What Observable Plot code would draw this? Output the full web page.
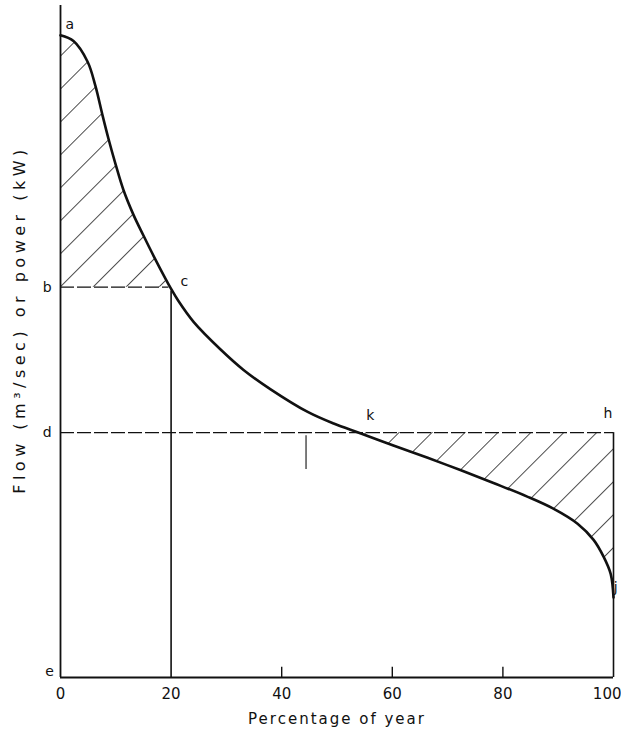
<!DOCTYPE html>
<html>
<head>
<meta charset="utf-8">
<script src="https://cdn.jsdelivr.net/npm/d3@7"></script>
<script src="https://cdn.jsdelivr.net/npm/@observablehq/plot@0.6"></script>
<style>
  html, body { margin: 0; padding: 0; background: #fff; }
</style>
</head>
<body>
<div id="chart"></div>
<script>
// Percentage of year (x) and flow / power (y, arbitrary units)
const percent = [0, 2.35, 4.9, 6.3, 7.6, 8.7, 9.9, 11.4, 13.2, 15.0, 16.8, 19.0, 19.9, 21.3, 24.1, 28.9, 33.1, 38.0, 44.7, 49.4, 54.2, 60.2, 66.4, 72.3, 78.3, 84.4, 89.2, 93.5, 96.4, 98.2, 99.5, 100];
const flow    = [99.4, 98.5, 95.3, 91.6, 87.0, 83.3, 79.6, 75.4, 71.6, 68.4, 65.3, 61.7, 60.3, 58.3, 55.0, 50.8, 47.6, 44.6, 41.1, 39.3, 37.8, 35.9, 34.0, 32.1, 30.1, 28.0, 26.1, 23.8, 21.3, 18.7, 16.0, 12.4];
const xTicks = [0, 20, 40, 60, 80];
const lastTick = [100];
const innerTicks = [40, 60, 80];
const levelB = 60.4;   // line b–c
const levelD = 37.9;   // line d–k–h
const pointC = 20;     // percentage at c
const xTitle = "Percentage of year";
const yTitle = "Flow (m³/sec) or power (kW)";
const pointLabels = [
  {x: 1.7,  y: 101.0, t: "a", anchor: "start"},
  {x: -2.4, y: 60.4,  t: "b", anchor: "middle"},
  {x: 22.4, y: 61.3,  t: "c", anchor: "middle"},
  {x: -2.4, y: 37.9,  t: "d", anchor: "middle"},
  {x: -2.0, y: 1.0,   t: "e", anchor: "middle"},
  {x: 56.0, y: 40.6,  t: "k", anchor: "middle"},
  {x: 99.0, y: 40.8,  t: "h", anchor: "middle"},
  {x: 100.4, y: 14.0, t: "j", anchor: "start"}
];

const data = percent.map((x, i) => ({x, y: flow[i]}));
const ink = "#111";

const chart = Plot.plot({
  width: 621,
  height: 736,
  marginLeft: 60,
  marginRight: 8,
  marginTop: 5,
  marginBottom: 59,
  x: {domain: [0, 100]},
  y: {domain: [0, 104], axis: null},
  style: {fontFamily: "DejaVu Sans, sans-serif", fontSize: "14px", background: "#fff", color: ink},
  marks: [
    // hatched areas
    Plot.areaY(data, {x: "x", y1: () => levelB, y2: d => Math.max(d.y, levelB), curve: "catmull-rom", fill: "url(#hatchA)"}),
    Plot.areaY(data, {x: "x", y1: d => Math.min(d.y, levelD), y2: () => levelD, curve: "catmull-rom", fill: "url(#hatchB)"}),
    // dashed levels
    Plot.ruleY([levelB], {x1: 0, x2: pointC - 0.4, stroke: ink, strokeWidth: 1.3, strokeDasharray: "14,3"}),
    Plot.ruleY([levelD], {x1: 0, x2: 100, stroke: ink, strokeWidth: 1.3, strokeDasharray: "14,3"}),
    // verticals
    Plot.ruleX([pointC], {y1: 0, y2: levelB - 0.6, stroke: ink, strokeWidth: 1.6}),
    Plot.ruleX([100], {y1: 0, y2: levelD, stroke: ink, strokeWidth: 1.6}),
    Plot.ruleX([44.4], {y1: 32.2, y2: levelD - 0.5, stroke: ink, strokeWidth: 1.1}),
    // frame axes
    Plot.ruleX([0], {y1: 0, y2: 104, stroke: ink, strokeWidth: 1.8}),
    Plot.ruleY([0], {x1: 0, x2: 100, stroke: ink, strokeWidth: 1.8}),
    Plot.ruleX(innerTicks, {y1: 0, y2: 1.6, stroke: ink, strokeWidth: 1.4}),
    // curve
    Plot.line(data, {x: "x", y: "y", curve: "catmull-rom", stroke: ink, strokeWidth: 2.6}),
    // axis tick labels
    Plot.axisX(xTicks, {tickSize: 0, tickPadding: 11, label: null, fontSize: 15, fill: ink}),
    Plot.axisX(lastTick, {tickSize: 0, tickPadding: 11, label: null, fontSize: 15, textAnchor: "end", dx: 8, fill: ink}),
    // axis titles
    Plot.text([xTitle], {frameAnchor: "bottom", dy: 46, fontSize: 15, fill: ink}),
    Plot.text([yTitle], {frameAnchor: "left", textAnchor: "middle", dx: -41, dy: -22, rotate: -90, fontSize: 16, fill: ink}),
    // point labels
    Plot.text(pointLabels, {x: "x", y: "y", text: "t", textAnchor: "anchor", fontSize: 14, fill: ink})
  ]
});

chart.insertAdjacentHTML("afterbegin", `
<defs>
  <pattern id="hatchA" patternUnits="userSpaceOnUse" x="12" y="0" width="23.3" height="23.3" patternTransform="rotate(45)">
    <line x1="0" y1="-5" x2="0" y2="30" stroke="#111" stroke-width="1.5"/>
  </pattern>
  <pattern id="hatchB" patternUnits="userSpaceOnUse" x="5" y="0" width="23.3" height="23.3" patternTransform="rotate(45)">
    <line x1="0" y1="-5" x2="0" y2="30" stroke="#111" stroke-width="1.5"/>
  </pattern>
</defs>`);

// wide letter spacing of the scanned axis titles
chart.querySelectorAll("text").forEach(t => {
  if (t.textContent === yTitle) t.style.letterSpacing = "4.5px";
  if (t.textContent === xTitle) t.style.letterSpacing = "2px";
});

document.getElementById("chart").appendChild(chart);
</script>
</body>
</html>
